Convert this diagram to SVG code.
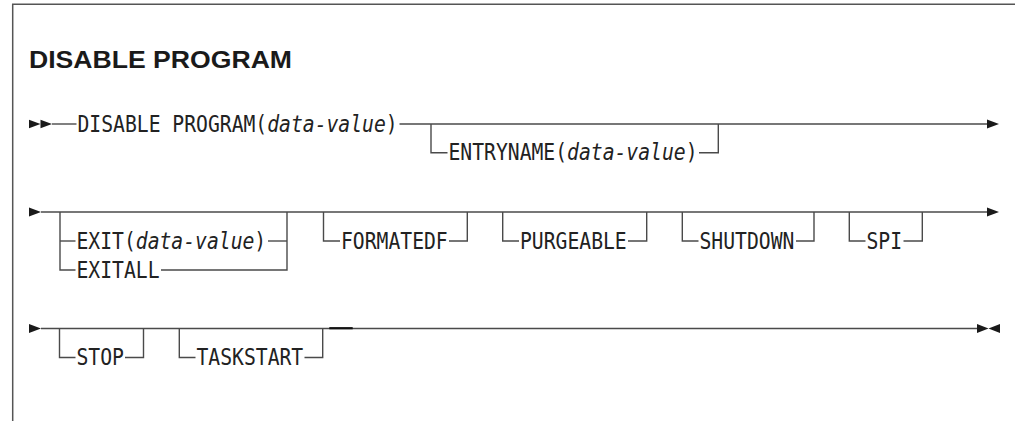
<svg xmlns="http://www.w3.org/2000/svg" width="1015" height="421" viewBox="0 0 1015 421">
<style>
.bg{fill:#ffffff}
.frame{fill:none;stroke:#555;stroke-width:1.5}
.ln{fill:none;stroke:#4a4a4a;stroke-width:1.4}
.arr{fill:#1a1a1a}
.title{font-family:"Liberation Sans",Arial,sans-serif;font-weight:bold;font-size:23.5px;fill:#1a1a1a}
.kw{font-family:"DejaVu Sans Mono","Liberation Mono",monospace;font-size:19.7px;fill:#222}
.it{font-style:italic}
</style>
<rect class="bg" x="0" y="0" width="1015" height="421"/>
<path class="frame" d="M12.7,421 V4.3 H1015"/>
<g id="title"><text class="title" x="29" y="68" textLength="263" lengthAdjust="spacingAndGlyphs">DISABLE PROGRAM</text></g>
<g id="connectors">
<polygon class="arr" points="29,119.7 40.5,124 29,128.3"/>
<polygon class="arr" points="40.5,119.7 52,124 40.5,128.3"/>
<path class="ln" d="M52,124 H76.5"/>
<path class="ln" d="M399.5,124 H987"/>
<path class="ln" d="M431,124 V152.7 H447.5"/>
<path class="ln" d="M699,152.7 H718.3 V124"/>
<polygon class="arr" points="987,119.5 999,124 987,128.5"/>
<polygon class="arr" points="29,207.5 41,212 29,216.5"/>
<path class="ln" d="M41,212 H987"/>
<path class="ln" d="M60,212 V270 H75.5"/>
<path class="ln" d="M60,241 H75.5"/>
<path class="ln" d="M268,241 H287"/>
<path class="ln" d="M161,270 H287 V212"/>
<path class="ln" d="M323.5,212 V241 H340"/>
<path class="ln" d="M449,241 H467.3 V212"/>
<path class="ln" d="M502.7,212 V241 H519"/>
<path class="ln" d="M628,241 H646.7 V212"/>
<path class="ln" d="M682.3,212 V241 H698.5"/>
<path class="ln" d="M796,241 H814 V212"/>
<path class="ln" d="M849.3,212 V241 H865.5"/>
<path class="ln" d="M903.5,241 H922.3 V212"/>
<polygon class="arr" points="987,207.5 999,212 987,216.5"/>
<polygon class="arr" points="29,324 41,328.5 29,333"/>
<path class="ln" d="M41,328.5 H977"/>
<path class="ln" d="M59.5,328.5 V357.5 H75.5"/>
<path class="ln" d="M125,357.5 H143.5 V328.5"/>
<path class="ln" d="M179.3,328.5 V357.5 H195.5"/>
<path class="ln" d="M304.5,357.5 H322.7 V328.5"/>
<path d="M329.3,328.2 H352.7" fill="none" stroke="#111" stroke-width="2.2"/>
<polygon class="arr" points="977,324 988.5,328.5 977,333"/>
<polygon class="arr" points="1000,324 988.5,328.5 1000,333"/>
</g>
<g id="disable-program"><text class="kw" x="77.5" y="131.7" transform="matrix(1,0,0,1.16,0,-21.072)">DISABLE PROGRAM(<tspan class="it">data-value</tspan>)</text></g>
<g id="entryname"><text class="kw" x="448.5" y="160.4" transform="matrix(1,0,0,1.16,0,-25.664)">ENTRYNAME(<tspan class="it">data-value</tspan>)</text></g>
<g id="exit"><text class="kw" x="76.5" y="248.7" transform="matrix(1,0,0,1.16,0,-39.792)">EXIT(<tspan class="it">data-value</tspan>)</text></g>
<g id="exitall"><text class="kw" x="76.5" y="277.7" transform="matrix(1,0,0,1.16,0,-44.432)">EXITALL</text></g>
<g id="formatedf"><text class="kw" x="341" y="248.7" transform="matrix(1,0,0,1.16,0,-39.792)">FORMATEDF</text></g>
<g id="purgeable"><text class="kw" x="520" y="248.7" transform="matrix(1,0,0,1.16,0,-39.792)">PURGEABLE</text></g>
<g id="shutdown"><text class="kw" x="699.5" y="248.7" transform="matrix(1,0,0,1.16,0,-39.792)">SHUTDOWN</text></g>
<g id="spi"><text class="kw" x="866.5" y="248.7" transform="matrix(1,0,0,1.16,0,-39.792)">SPI</text></g>
<g id="stop"><text class="kw" x="76.5" y="365.2" transform="matrix(1,0,0,1.16,0,-58.432)">STOP</text></g>
<g id="taskstart"><text class="kw" x="196.5" y="365.2" transform="matrix(1,0,0,1.16,0,-58.432)">TASKSTART</text></g>
</svg>
